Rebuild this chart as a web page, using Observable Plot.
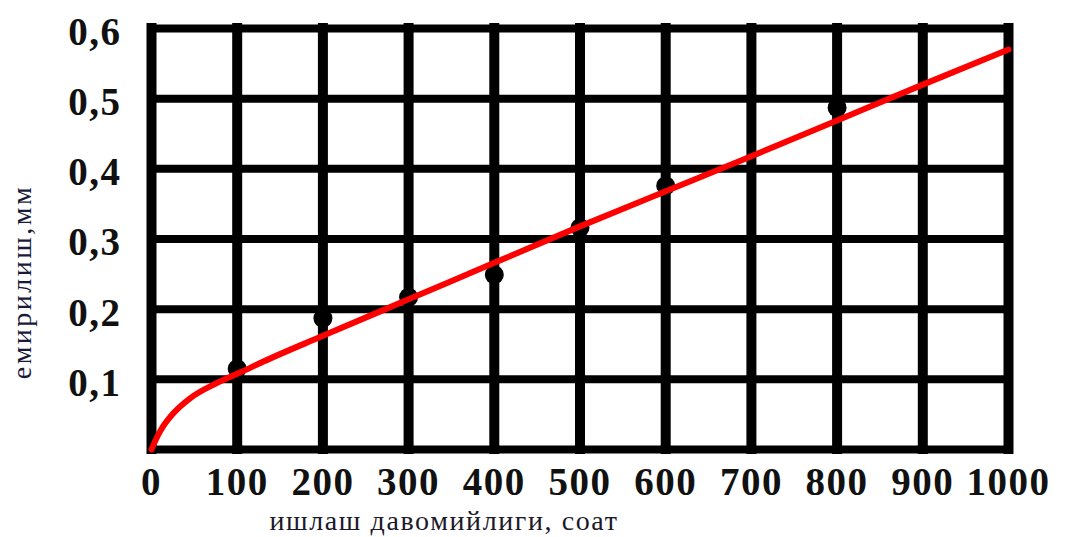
<!DOCTYPE html>
<html>
<head>
<meta charset="utf-8">
<script src="https://cdn.jsdelivr.net/npm/d3@7"></script>
<script src="https://cdn.jsdelivr.net/npm/@observablehq/plot@0.6"></script>
<style>
  html, body { margin: 0; padding: 0; background: white; }
  svg text { font-family: "Liberation Serif", "Times New Roman", serif !important; }
  g[aria-label="x-axis tick label"] text, g[aria-label="y-axis tick label"] text { letter-spacing: 1.5px; }
  g.xtitle text { letter-spacing: 1.6px; }
  g.ytitle text { letter-spacing: 2.5px; }
</style>
</head>
<body>
<div id="chart"></div>
<script>
// Data
const hours = [100, 200, 300, 400, 500, 600, 800];            // measured points (x)
const wear  = [0.115, 0.187, 0.217, 0.249, 0.316, 0.376, 0.487]; // measured points (y)

const curveHours = [0, 5, 12, 25, 45, 75, 104, 130, 200, 300, 400, 500, 600, 700, 800, 900, 1000];
const curveWear  = [0, 0.014, 0.03, 0.051, 0.073, 0.094, 0.110, 0.125, 0.162, 0.214, 0.266, 0.318, 0.368, 0.418, 0.469, 0.520, 0.570];

const xTicks = [0, 100, 200, 300, 400, 500, 600, 700, 800, 900, 1000];
const yTicks = [0.1, 0.2, 0.3, 0.4, 0.5, 0.6];
const yGrid  = [0, 0.1, 0.2, 0.3, 0.4, 0.5, 0.6];

const xTitle = "ишлаш давомийлиги, соат";
const yTitle = "емирилиш,мм";

const points = hours.map((h, i) => ({h, w: wear[i]}));
const curve = curveHours.map((h, i) => ({h, w: curveWear[i]}));

const serif = "'Liberation Serif', 'Times New Roman', serif";

const chart = Plot.plot({
  width: 1076,
  height: 537,
  marginLeft: 151,
  marginRight: 68,
  marginTop: 28,
  marginBottom: 88,
  style: {fontFamily: serif, background: "white", color: "black"},
  x: {domain: [0, 1000]},
  y: {domain: [0, 0.6]},
  marks: [
    Plot.ruleY(yGrid, {stroke: "black", strokeWidth: 8, strokeLinecap: "square"}),
    Plot.ruleX(xTicks, {stroke: "black", strokeWidth: 10, strokeLinecap: "square"}),
    Plot.dot(points, {x: "h", y: "w", r: 9.5, fill: "black", stroke: null}),
    Plot.line(curve, {x: "h", y: "w", stroke: "#ff0000", strokeWidth: 6, curve: "monotone-x"}),
    Plot.axisX(xTicks, {tickSize: 0, tickPadding: 18, fontSize: 39, fontWeight: "bold", fontFamily: serif, label: null, fill: "#111",
      tickFormat: d => String(d)}),
    Plot.axisY(yTicks, {tickSize: 0, tickPadding: 30, fontSize: 39, fontWeight: "bold", fontFamily: serif, label: null, dy: 4, fill: "#111",
      tickFormat: d => d.toFixed(1).replace(".", ",")}),
    Plot.text([xTitle], {frameAnchor: "bottom", dx: -136, dy: 72, fontSize: 28, fontFamily: serif, fill: "#1a1a2a", lineAnchor: "middle", className: "xtitle"}),
    Plot.text([yTitle], {frameAnchor: "left", textAnchor: "middle", rotate: -90, dx: -129, dy: 43, fontSize: 28, fontFamily: serif, fill: "#1a1a3a", lineAnchor: "middle", className: "ytitle"})
  ]
});
document.getElementById("chart").appendChild(chart);
</script>
</body>
</html>
